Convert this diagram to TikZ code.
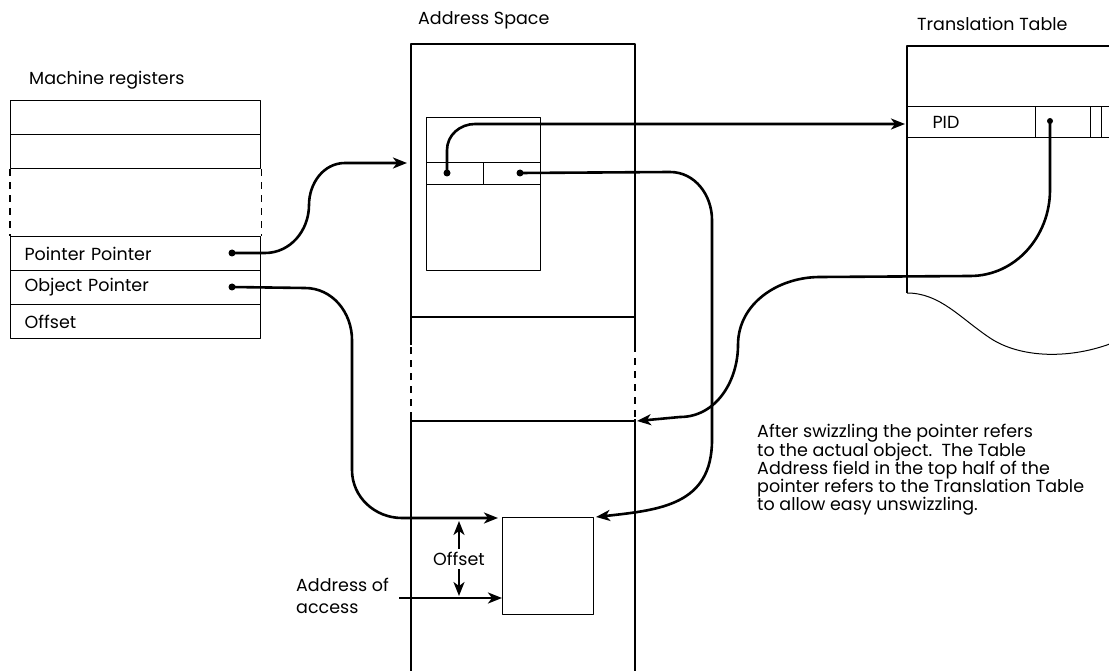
\documentclass[tikz,border=0pt]{standalone}
\usepackage{fontspec}
\setmainfont{Poppins}
\usetikzlibrary{arrows.meta}
\usetikzlibrary{positioning}

\tikzset{
  reg/.style={draw, line width=1.2pt, anchor=north west, minimum width=250pt, minimum height=34pt,
              inner xsep=14pt, inner ysep=0pt, text width=222pt, align=left},
  cellbox/.style={draw, line width=1.2pt, anchor=north west, inner sep=0pt},
  gapline/.style={line width=1.2pt, dash pattern=on 7pt off 6pt},
  dot/.style={circle, fill, inner sep=0pt, minimum size=7pt},
  ptr/.style={line width=2.6pt, -{Stealth[length=14pt,width=11pt,inset=4pt]}},
  lbl/.style={anchor=west, inner sep=0pt}
}

\begin{document}
\begin{tikzpicture}[x=1pt, y=-1pt, line join=round, font=\fontsize{17.5}{18.2}\selectfont]
  \useasboundingbox (0,0) rectangle (1109,671);
  \clip (0,0) rectangle (1109,671);

  %machine registers
  \node[lbl] (mrlabel) at (29,80) {Machine registers};
  \node[reg] (r1) at (10,100) {};
  \node[reg] (r2) at (10,134) {};
  \node[reg] (r3) at (10,236) {Pointer Pointer};
  \node[reg] (r4) at (10,270) {Object Pointer};
  \node[reg] (r5) at (10,304) {Offset};
  \draw[gapline] (r2.south west) -- (r3.north west);
  \draw[gapline] (r2.south east) -- (r3.north east);
  \node[dot] (ppdot) at (232,253) {};
  \node[dot] (opdot) at (232,287) {};

  %address space
  \node[lbl] (aslabel) at (418,20) {Address Space};
  \draw[line width=1.2pt] (411,671) -- (411,419);
  \draw[gapline] (411,419) -- (411,345);
  \draw[line width=1.2pt] (411,345) -- (411,44) -- (635,44) -- (635,345);
  \draw[gapline] (635,345) -- (635,419);
  \draw[line width=1.2pt] (635,419) -- (635,671);
  \draw[line width=1.2pt] (411,317) -- (635,317);
  \draw[line width=1.2pt] (411,421) -- (635,421);
  \coordinate (gapcorner) at (637,421);
  \coordinate (asleft) at (407,163);

  %pointer record
  \node[cellbox, minimum width=114pt, minimum height=153pt] (rec) at (426,117) {};
  \node[cellbox, minimum width=57pt, minimum height=22pt] (pa) at (426,162) {};
  \node[cellbox, minimum width=57pt, minimum height=22pt] (pb) at (483,162) {};
  \node[dot] (pdot) at (447,173) {};
  \node[dot] (qdot) at (520,173) {};

  %object
  \node[cellbox, minimum width=91pt, minimum height=97pt] (obj) at (502,517) {};
  \coordinate (objnw) at (498,518);
  \coordinate (objne) at (596,517);

  %translation table
  \node[lbl] (ttlabel) at (917,24) {Translation Table};
  \draw[line width=1.2pt] (907,293) -- (907,46) -- (1115,46);
  \node[cellbox, minimum width=128pt, minimum height=31pt, inner xsep=25pt, text width=78pt, align=left] (pid) at (907,106) {PID};
  \node[cellbox, minimum width=55pt, minimum height=31pt] (tc1) at (1035,106) {};
  \node[cellbox, minimum width=11pt, minimum height=31pt] (tc2) at (1090,106) {};
  \node[cellbox, minimum width=20pt, minimum height=31pt] (tc3) at (1101,106) {};
  \draw[line width=1pt] (907,293) .. controls (940,293) and (960,318) .. (990,338)
        .. controls (1020,358) and (1070,360) .. (1115,342);
  \node[dot, minimum size=6pt] (tdot) at (1050,121) {};
  \coordinate (pidin) at (905,124);

  %pointers
  \draw[ptr] (ppdot.center) -- (265,253) to[out=0,in=-90] (309,205) to[out=90,in=180] (345,163) -- (asleft);
  \draw[ptr] (opdot.center) -- (305,288) to[out=0,in=90] (352,340) -- (352,470) to[out=-90,in=180] (402,518) -- (objnw);
  \draw[ptr] (pdot.center) -- (447,150) to[out=90,in=180] (475,124) -- (pidin);
  \draw[ptr] (qdot.center) -- (670,172) to[out=0,in=90] (712,220) -- (712,440)
        .. controls (712,505) and (660,510) .. (objne);
  \draw[ptr] (tdot.center) -- (1050,190) to[out=-90,in=0] (970,276) -- (820,277)
        to[out=180,in=90] (738,345) to[out=-90,in=0] (680,417) -- (gapcorner);

  %offset
  \node (offlabel) at (459,559) {Offset};
  \draw[ptr, line width=2.2pt] (offlabel.north) -- (459,521);
  \draw[ptr, line width=2.2pt] (offlabel.south) -- (459,596);
  \node[lbl, align=left] (addrlabel) at (296,596) {Address of\\[4pt]access};
  \coordinate (addrstart) at (399,598);
  \draw[ptr] (addrstart) -- (obj.west |- addrstart);

  %note
  \node[lbl, align=left] (note) at (757,470) {After swizzling the pointer refers\\
    to the actual object.\ \ The Table\\
    Address field in the top half of the\\
    pointer refers to the Translation Table\\
    to allow easy unswizzling.};
\end{tikzpicture}
\end{document}
